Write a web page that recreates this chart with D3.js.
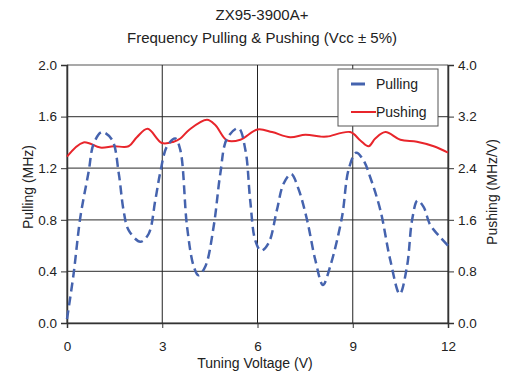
<!DOCTYPE html>
<html>
<head>
<script src="https://d3js.org/d3.v7.min.js" charset="utf-8"></script>
<style>
  body { margin: 0; background: #fff; }
  text { font-family: "Liberation Sans", Arial, sans-serif; fill: #222; }
</style>
</head>
<body>
<svg id="chart" width="505" height="372"></svg>
<script>
// Pulling curve (MHz, left axis)
var pullX = [0, 0.21, 0.42, 0.68, 0.84, 1.10, 1.42, 1.63, 1.78, 1.94, 2.31, 2.57, 2.78, 2.94, 3.15, 3.41, 3.57, 3.78, 3.99, 4.14, 4.36, 4.62, 4.83, 5.04, 5.40, 5.62, 5.77, 5.93, 6.11, 6.35, 6.61, 6.82, 7.06, 7.29, 7.56, 7.82, 8.06, 8.29, 8.66, 8.87, 9.11, 9.34, 9.55, 9.87, 10.18, 10.48, 10.71, 10.87, 11.04, 11.23, 11.44, 11.70, 12];
var pullY = [0.03, 0.385, 0.82, 1.17, 1.39, 1.48, 1.42, 1.16, 0.875, 0.72, 0.63, 0.69, 0.95, 1.17, 1.37, 1.43, 1.34, 0.75, 0.44, 0.37, 0.44, 0.75, 1.16, 1.43, 1.51, 1.34, 0.95, 0.64, 0.56, 0.62, 0.875, 1.08, 1.155, 1.04, 0.80, 0.49, 0.295, 0.44, 0.82, 1.19, 1.32, 1.26, 1.13, 0.875, 0.49, 0.225, 0.44, 0.80, 0.95, 0.90, 0.76, 0.68, 0.60];
// Pushing curve (MHz/V, right axis)
var pushX = [0, 0.52, 1.05, 1.47, 1.94, 2.20, 2.54, 2.99, 3.36, 3.57, 3.86, 4.41, 4.67, 5.04, 5.46, 6.00, 6.46, 7.03, 7.51, 7.98, 8.19, 8.92, 9.24, 9.50, 9.71, 10.03, 10.50, 11.02, 11.55, 12];
var pushY = [2.58, 2.80, 2.72, 2.74, 2.74, 2.88, 3.01, 2.79, 2.81, 2.86, 3.00, 3.15, 3.07, 2.83, 2.84, 3.00, 2.96, 2.88, 2.92, 2.89, 2.89, 2.96, 2.83, 2.74, 2.86, 2.96, 2.84, 2.81, 2.74, 2.64];

var xTicks = [0, 3, 6, 9, 12];
var leftTicks = [0, 0.4, 0.8, 1.2, 1.6, 2.0];
var rightTicks = [0, 0.8, 1.6, 2.4, 3.2, 4.0];

var svg = d3.select("#chart");
var x0 = 67, x1 = 448, yTop = 65, yBot = 323;

var x = d3.scaleLinear().domain([0, 12]).range([x0, x1]);
var yL = d3.scaleLinear().domain([0, 2]).range([yBot, yTop]);
var yR = d3.scaleLinear().domain([0, 4]).range([yBot, yTop]);

// grid
svg.append("g").selectAll("line").data(leftTicks).enter().append("line")
  .attr("x1", x0).attr("x2", x1)
  .attr("y1", function(d){return yL(d);}).attr("y2", function(d){return yL(d);})
  .attr("stroke", "#555").attr("stroke-width", 1.2);
svg.append("g").selectAll("line").data(xTicks).enter().append("line")
  .attr("x1", function(d){return x(d);}).attr("x2", function(d){return x(d);})
  .attr("y1", yTop).attr("y2", yBot)
  .attr("stroke", "#222").attr("stroke-width", 1);

// axes
var gl = svg.append("g").attr("transform", "translate(" + x0 + ",0)")
  .call(d3.axisLeft(yL).tickValues(leftTicks).tickFormat(d3.format(".1f")).tickSize(6).tickPadding(4));
var gr = svg.append("g").attr("transform", "translate(" + x1 + ",0)")
  .call(d3.axisRight(yR).tickValues(rightTicks).tickFormat(d3.format(".1f")).tickSize(6).tickPadding(4));
var gb = svg.append("g").attr("transform", "translate(0," + yBot + ")")
  .call(d3.axisBottom(x).tickValues(xTicks).tickSize(5).tickPadding(13));
[gl, gr, gb].forEach(function(g){
  g.selectAll("path").attr("stroke", "#333").attr("stroke-width", 1.5);
  g.selectAll("line").attr("stroke", "#333");
  g.selectAll("text").style("font-size", "13.5px").style("font-family", "Liberation Sans, Arial, sans-serif").attr("fill", "#222");
});

// lines
var pullData = pullX.map(function(v, i){ return [v, pullY[i]]; });
var pushData = pushX.map(function(v, i){ return [v, pushY[i]]; });

svg.append("path").datum(pushData)
  .attr("fill", "none").attr("stroke", "#e8252b").attr("stroke-width", 2)
  .attr("d", d3.line().x(function(d){return x(d[0]);}).y(function(d){return yR(d[1]);}).curve(d3.curveCatmullRom));

svg.append("path").datum(pullData)
  .attr("fill", "none").attr("stroke", "#4563ae").attr("stroke-width", 2.5)
  .attr("stroke-dasharray", "9,5")
  .attr("d", d3.line().x(function(d){return x(d[0]);}).y(function(d){return yL(d[1]);}).curve(d3.curveCatmullRom));

// legend
var lg = svg.append("g");
lg.append("rect").attr("x", 338).attr("y", 69).attr("width", 100).attr("height", 57)
  .attr("fill", "#fff").attr("stroke", "#555").attr("stroke-width", 1);
lg.append("line").attr("x1", 351).attr("x2", 365).attr("y1", 84).attr("y2", 84)
  .attr("stroke", "#4563ae").attr("stroke-width", 3);
lg.append("line").attr("x1", 351).attr("x2", 376).attr("y1", 112).attr("y2", 112)
  .attr("stroke", "#e8252b").attr("stroke-width", 2);
lg.append("text").attr("x", 376).attr("y", 89).style("font-size", "14px").text("Pulling");
lg.append("text").attr("x", 376).attr("y", 117).style("font-size", "14px").text("Pushing");

// titles
svg.append("text").attr("x", 262).attr("y", 20).attr("text-anchor", "middle").style("font-size", "15px").text("ZX95-3900A+");
svg.append("text").attr("x", 262).attr("y", 43).attr("text-anchor", "middle").style("font-size", "15px").text("Frequency Pulling & Pushing (Vcc \u00b1 5%)");
svg.append("text").attr("x", 255).attr("y", 368).attr("text-anchor", "middle").style("font-size", "14px").text("Tuning Voltage (V)");
svg.append("text").attr("transform", "translate(33,187) rotate(-90)")
  .attr("text-anchor", "middle").style("font-size", "14px").text("Pulling (MHz)");
svg.append("text").attr("transform", "translate(497,192) rotate(-90)")
  .attr("text-anchor", "middle").style("font-size", "14px").text("Pushing (MHz/V)");
</script>
</body>
</html>
